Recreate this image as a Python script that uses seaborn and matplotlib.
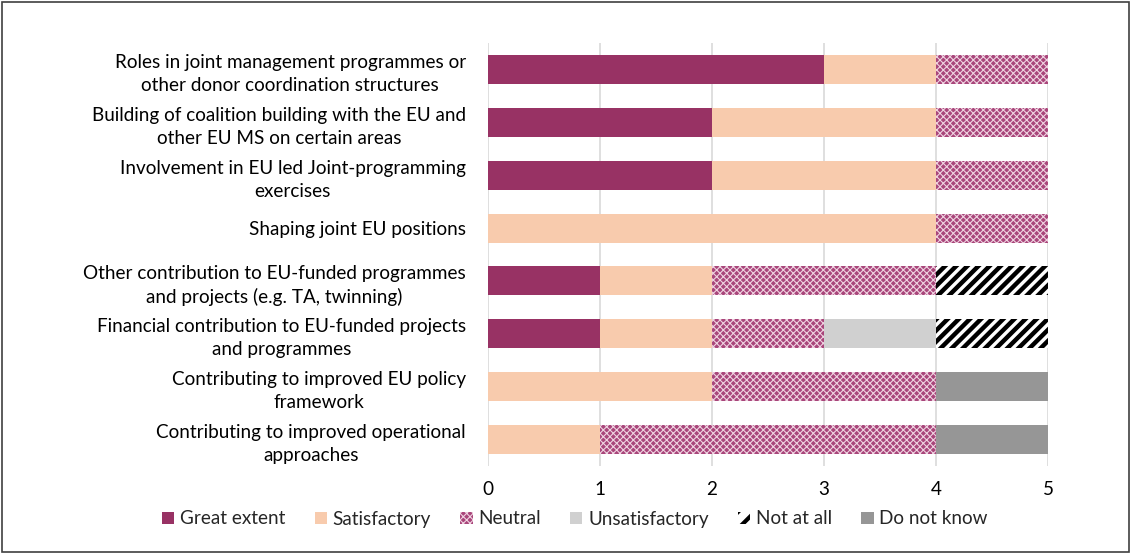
import numpy as np
import pandas as pd
import matplotlib
matplotlib.use("Agg")
import matplotlib.pyplot as plt
from matplotlib.patches import Patch, Rectangle
import seaborn as sns

categories = [
    "Roles in joint management programmes or\nother donor coordination structures",
    "Building of coalition building with the EU and\nother EU MS on certain areas",
    "Involvement in EU led Joint-programming\nexercises",
    "Shaping joint EU positions",
    "Other contribution to EU-funded programmes\nand projects (e.g. TA, twinning)",
    "Financial contribution to EU-funded projects\nand programmes",
    "Contributing to improved EU policy\nframework",
    "Contributing to improved operational\napproaches",
]
series_names = ["Great extent", "Satisfactory", "Neutral", "Unsatisfactory", "Not at all", "Do not know"]
great_extent   = [3, 2, 2, 0, 1, 1, 0, 0]
satisfactory   = [1, 2, 2, 4, 1, 1, 2, 1]
neutral        = [1, 1, 1, 1, 2, 1, 2, 3]
unsatisfactory = [0, 0, 0, 0, 0, 1, 0, 0]
not_at_all     = [0, 0, 0, 0, 1, 1, 0, 0]
do_not_know    = [0, 0, 0, 0, 0, 0, 1, 1]
x_ticks = [0, 1, 2, 3, 4, 5]

series = [great_extent, satisfactory, neutral, unsatisfactory, not_at_all, do_not_know]

# fill, hatch, hatch colour
styles = [
    ("#983264", None, "#983264"),
    ("#f8cbad", None, "#f8cbad"),
    ("#a9467b", "xxxxx", "#efd3e1"),
    ("#d0d0d0", None, "#d0d0d0"),
    ("#ffffff", "///", "#000000"),
    ("#969696", None, "#969696"),
]

FS = 13.6

sns.set_theme(style="white")
plt.rcParams["font.family"] = ["Lato", "DejaVu Sans"]
plt.rcParams["hatch.linewidth"] = 0.8

fig = plt.figure(figsize=(11.32, 5.54), dpi=100)
ax = fig.add_axes([488 / 1132, 1 - 466 / 554, 560 / 1132, 423 / 554])

cum = np.cumsum(np.array(series, dtype=float), axis=0)

# Stacked bars: draw cumulative totals from the outermost layer inwards
for i in range(len(series) - 1, -1, -1):
    face, hatch, hcol = styles[i]
    df = pd.DataFrame({"category": categories, "value": cum[i]})
    n_before = len(ax.patches)
    sns.barplot(data=df, x="value", y="category", orient="h", ax=ax,
                color=face, width=0.55, saturation=1, errorbar=None)
    for p in ax.patches[n_before:]:
        p.set_facecolor(face)
        p.set_edgecolor(hcol)
        p.set_linewidth(0)
        if hatch:
            p.set_hatch(hatch)
            if i == 4:
                try:
                    p.set_hatch_linewidth(3.2)
                except AttributeError:
                    pass
                p.set_edgecolor(hcol)

ax.set_xlim(0, 5)
ax.set_xticks(x_ticks)
ax.set_xticklabels([str(t) for t in x_ticks], fontsize=FS, color="#000000")
ax.tick_params(axis="y", labelsize=FS, colors="#000000", length=0, pad=16)
ax.tick_params(axis="x", length=0, pad=11)
for lab in ax.get_yticklabels():
    lab.set_multialignment("center")
    lab.set_linespacing(1.42)
ax.set_xlabel("")
ax.set_ylabel("")
ax.xaxis.grid(True, color="#d9d9d9", linewidth=1.2)
ax.yaxis.grid(False)
ax.set_axisbelow(True)
for s in ax.spines.values():
    s.set_visible(False)

# Legend
handles = []
for name, (face, hatch, hcol) in zip(series_names, styles):
    h = Patch(facecolor=face, edgecolor=hcol, hatch=hatch, linewidth=0, label=name)
    handles.append(h)
leg = fig.legend(handles=handles, loc="center", bbox_to_anchor=(575 / 1132, 1 - 519 / 554),
                 ncol=6, frameon=False, fontsize=FS, handlelength=0.65, handleheight=0.65,
                 handletextpad=0.3, columnspacing=1.55)
for h in leg.legend_handles:
    if h.get_hatch() == "///":
        try:
            h.set_hatch("//")
            h.set_hatch_linewidth(3.0)
        except AttributeError:
            pass

# Outer frame
fig.patches.append(Rectangle((0.002, 0.003), 0.995, 0.994, transform=fig.transFigure,
                             fill=False, edgecolor="#404040", linewidth=1.2))

fig.savefig("out.png", dpi=100)
